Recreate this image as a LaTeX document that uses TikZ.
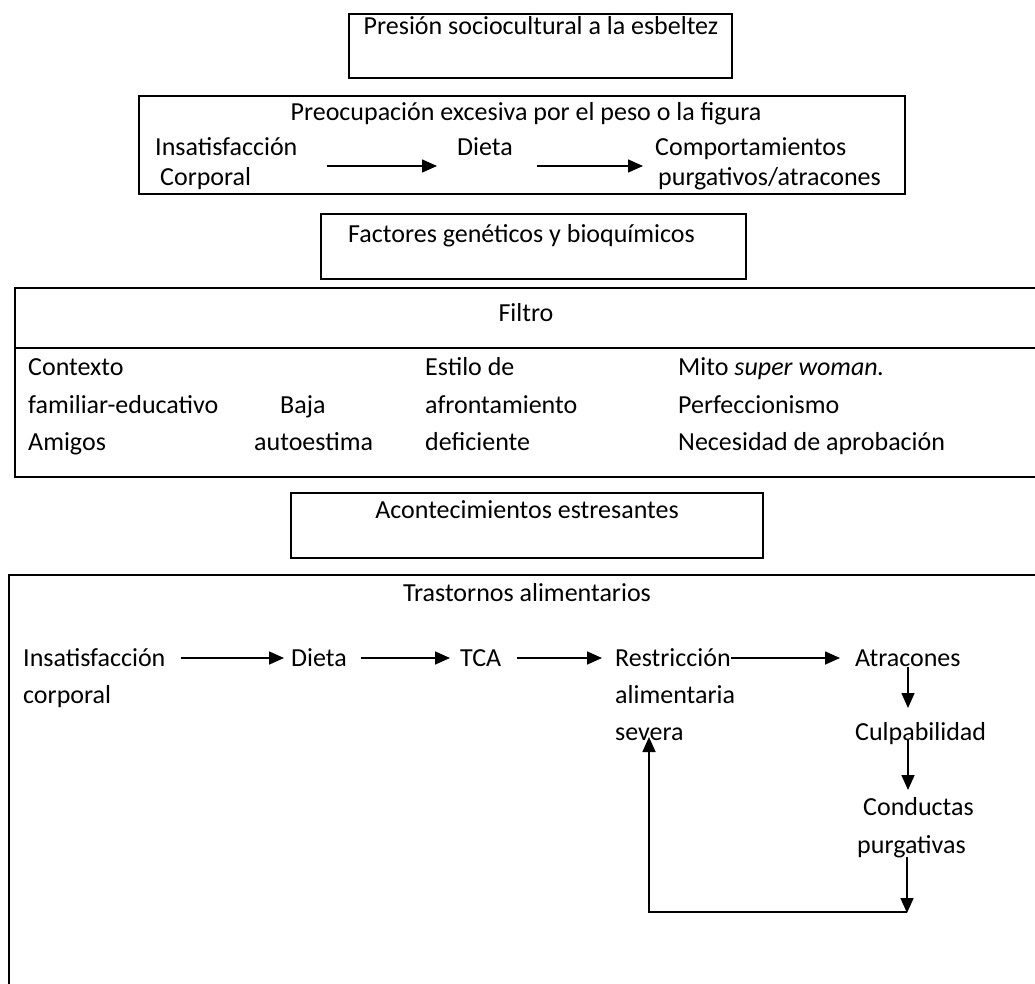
\documentclass[tikz,border=0pt]{standalone}
\usepackage{fontspec}
\setmainfont{Carlito}
\usetikzlibrary{arrows.meta}
\tikzset{
  box/.style={draw, line width=2.2pt},
  txt/.style={anchor=base west, inner sep=0pt, text height=20pt, text depth=4pt, font=\fontsize{26}{30}\selectfont},
  ctxt/.style={txt, anchor=base},
  arr/.style={line width=1.6pt, -{Triangle[length=15pt,width=13pt]}},
}
\begin{document}
\begin{tikzpicture}[x=1pt,y=-1pt]
\useasboundingbox (0,0) rectangle (1035,984);
% boxes
\draw[box] (349,14) rectangle (732,78);
\draw[box] (139,96) rectangle (905,194);
\draw[box] (321,214) rectangle (746,279);
\draw[box] (1045,288) -- (15,288) -- (15,477) -- (1045,477);
\draw[box] (15,348) -- (1045,348);
\draw[box] (291,493) rectangle (763,558);
\draw[box] (1045,575) -- (9,575) -- (9,995);
% box 1
\node[ctxt] (p1) at (541,35) {Presión sociocultural a la esbeltez};
% box 2
\node[ctxt] (p2) at (526,121) {Preocupación excesiva por el peso o la figura};
\node[txt] (i2) at (155,156) {Insatisfacción};
\node[txt] (c2) at (160,186) {Corporal};
\node[txt] (d2) at (457,156) {Dieta};
\node[txt] (k2) at (655,156) {Comportamientos};
\node[txt] (g2) at (658,186) {purgativos/atracones};
\coordinate (a2s) at (327,166);
\coordinate (a2e) at (437,166);
\coordinate (b2s) at (537,166);
\coordinate (b2e) at (643,166);
\draw[arr] (a2s) -- (a2e);
\draw[arr] (b2s) -- (b2e);
% box 3
\node[txt] (f3) at (348,243) {Factores genéticos y bioquímicos};
% filtro
\node[ctxt] (fil) at (526,321) {Filtro};
\node[txt] (c11) at (28,375) {Contexto};
\node[txt] (c12) at (28,413) {familiar-educativo};
\node[txt] (c13) at (28,450) {Amigos};
\node[txt] (c22) at (280,413) {Baja};
\node[txt] (c23) at (254,450) {autoestima};
\node[txt] (c31) at (425,375) {Estilo de};
\node[txt] (c32) at (425,413) {afrontamiento};
\node[txt] (c33) at (425,450) {deficiente};
\node[txt] (c41) at (678,375) {Mito \textit{super woman.}};
\node[txt] (c42) at (678,413) {Perfeccionismo};
\node[txt] (c43) at (678,450) {Necesidad de aprobación};
% acontecimientos
\node[ctxt] (ac) at (527,518) {Acontecimientos estresantes};
% trastornos
\node[ctxt] (tr) at (527,601) {Trastornos alimentarios};
\node[txt] (t1) at (23,666) {Insatisfacción};
\node[txt] (t1b) at (23,703) {corporal};
\node[txt] (t2) at (291,666) {Dieta};
\node[txt] (t3) at (460,666) {TCA};
\node[txt] (t4) at (615,666) {Restricción};
\node[txt] (t4b) at (615,703) {alimentaria};
\node[txt] (t4c) at (615,740) {severa};
\node[txt] (t5) at (855,666) {Atracones};
\node[txt] (t6) at (855,740) {Culpabilidad};
\node[txt] (t7) at (863,815) {Conductas};
\node[txt] (t7b) at (857,853) {purgativas};
\draw[arr, shorten <=15pt, shorten >=7pt] (t1.east) -- (t2.west);
\draw[arr, shorten <=14pt, shorten >=10pt] (t2.east) -- (t3.west);
\draw[arr, shorten <=16pt, shorten >=13pt] (t3.east) -- (t4.west);
\draw[arr, shorten >=15pt] (t4.east) -- (t5.west);
\coordinate (v1s) at (908,667);
\coordinate (v1e) at (908,708);
\coordinate (v2s) at (908,740);
\coordinate (v2e) at (908,790);
\coordinate (v3s) at (907,857);
\coordinate (v3e) at (907,913);
\coordinate (lp) at (649,912);
\coordinate (up) at (649,737);
\draw[arr] (v1s) -- (v1e);
\draw[arr] (v2s) -- (v2e);
\draw[arr] (v3s) -- (v3e);
\draw[arr] (v3e |- lp) -- (lp) -- (up);
\end{tikzpicture}
\end{document}
